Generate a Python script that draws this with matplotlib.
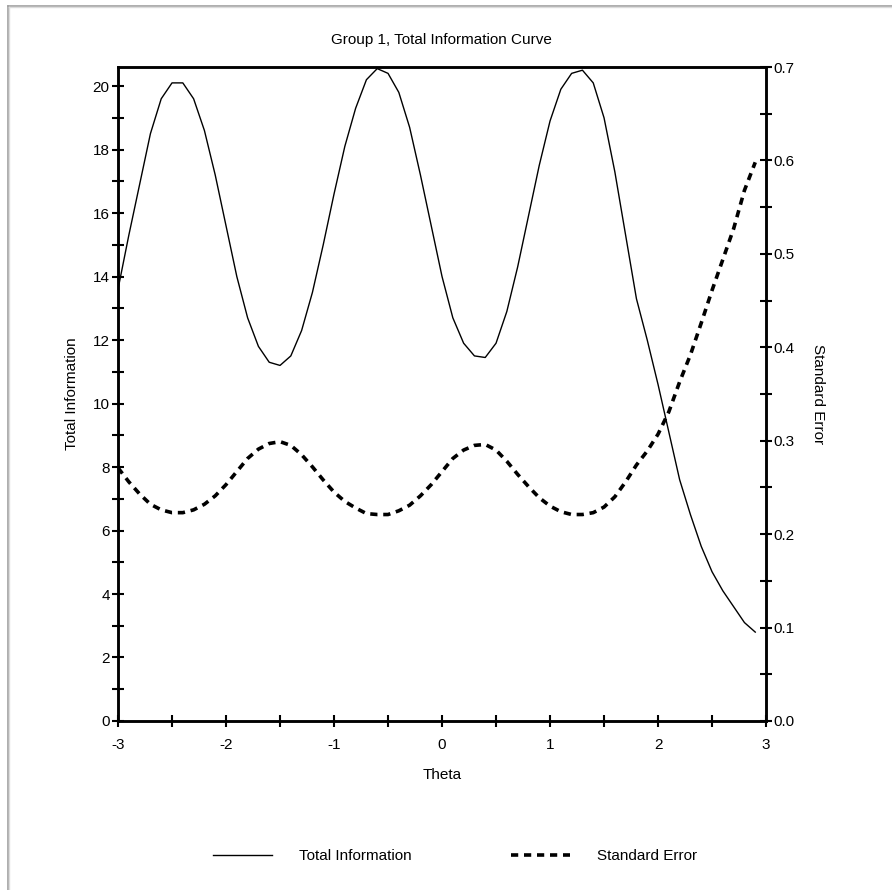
import numpy as np
import matplotlib
matplotlib.use("Agg")
import matplotlib.pyplot as plt
from matplotlib.lines import Line2D

plt.rcParams['font.family'] = ['Liberation Sans', 'DejaVu Sans']

# values
theta = [-3.0, -2.9, -2.8, -2.7, -2.6, -2.5, -2.4, -2.3, -2.2, -2.1,
         -2.0, -1.9, -1.8, -1.7, -1.6, -1.5, -1.4, -1.3, -1.2, -1.1,
         -1.0, -0.9, -0.8, -0.7, -0.6, -0.5, -0.4, -0.3, -0.2, -0.1,
         0.0, 0.1, 0.2, 0.3, 0.4, 0.5, 0.6, 0.7, 0.8, 0.9,
         1.0, 1.1, 1.2, 1.3, 1.4, 1.5, 1.6, 1.7, 1.8, 1.9,
         2.0, 2.1, 2.2, 2.3, 2.4, 2.5, 2.6, 2.7, 2.8, 2.9]
total_info = [13.6, 15.3, 16.9, 18.5, 19.6, 20.1, 20.1, 19.6, 18.6, 17.2,
              15.6, 14.0, 12.7, 11.8, 11.3, 11.2, 11.5, 12.3, 13.5, 15.0,
              16.6, 18.1, 19.3, 20.2, 20.55, 20.4, 19.8, 18.7, 17.2, 15.6,
              14.0, 12.7, 11.9, 11.5, 11.45, 11.9, 12.9, 14.3, 15.9, 17.5,
              18.9, 19.9, 20.4, 20.5, 20.1, 19.0, 17.3, 15.3, 13.3, 12.0,
              10.6, 9.1, 7.6, 6.5, 5.5, 4.7, 4.1, 3.6, 3.1, 2.8]
std_err = [0.271, 0.256, 0.243, 0.232, 0.226, 0.223, 0.223, 0.226, 0.232, 0.241,
           0.253, 0.267, 0.281, 0.291, 0.297, 0.299, 0.295, 0.285, 0.272, 0.258,
           0.245, 0.235, 0.228, 0.222, 0.221, 0.221, 0.225, 0.231, 0.241, 0.253,
           0.267, 0.281, 0.290, 0.295, 0.296, 0.290, 0.278, 0.264, 0.251, 0.239,
           0.230, 0.224, 0.221, 0.221, 0.223, 0.229, 0.240, 0.256, 0.274, 0.289,
           0.307, 0.331, 0.363, 0.392, 0.426, 0.461, 0.494, 0.527, 0.568, 0.598]

fs = 11

fig = plt.figure(figsize=(8.92, 8.90), dpi=100)
ax = fig.add_axes([0.1323, 0.1899, 0.7265, 0.7348])
ax2 = ax.twinx()

l1, = ax.plot(theta, total_info, color='black', lw=1.0)
l2, = ax2.plot(theta, std_err, color='black', lw=2.6, linestyle=(0, (2.0, 1.6)))

ax.set_xlim(-3, 3)
ax.set_ylim(0, 20.6)
ax2.set_ylim(0, 0.7)

ax.set_xticks(np.arange(-3, 3.01, 1))
ax.set_xticks(np.arange(-2.5, 3, 1), minor=True)
ax.set_xticklabels(['-3', '-2', '-1', '0', '1', '2', '3'])
ax.set_yticks(np.arange(0, 21, 2))
ax.set_yticks(np.arange(1, 21, 2), minor=True)
ax2.set_yticks(np.arange(0, 0.71, 0.1))
ax2.set_yticks(np.arange(0.05, 0.7, 0.1), minor=True)
ax2.set_yticklabels(['0.0', '0.1', '0.2', '0.3', '0.4', '0.5', '0.6', '0.7'])

for a in (ax, ax2):
    a.tick_params(which='both', direction='inout', length=8, width=1.5,
                  labelsize=fs, pad=2)
    for s in a.spines.values():
        s.set_linewidth(1.8)
ax.tick_params(axis='x', pad=8)
ax2.tick_params(axis='y', pad=1)

ax.set_xlabel('Theta', fontsize=fs, labelpad=12)
ax.set_ylabel('Total Information', fontsize=fs, labelpad=10)
ax2.set_ylabel('Standard Error', fontsize=fs, rotation=270, labelpad=22)
fig.text(0.495, 0.955, 'Group 1, Total Information Curve', ha='center',
         va='center', fontsize=fs)

fig.legend([l1, l2], ['Total Information', 'Standard Error'],
           loc='center', bbox_to_anchor=(0.51, 0.038), ncol=2, frameon=False,
           fontsize=fs, handlelength=3.87, handletextpad=1.75, columnspacing=6.5)

# grey window border along the top and left edges
fig.add_artist(Line2D([7.5 / 892, 7.5 / 892], [0, 1 - 5.5 / 890], color='#a0a0a0', lw=1.2,
                      transform=fig.transFigure))
fig.add_artist(Line2D([7.5 / 892, 1], [1 - 5.5 / 890, 1 - 5.5 / 890], color='#a0a0a0', lw=1.2,
                      transform=fig.transFigure))
fig.add_artist(Line2D([9 / 892, 9 / 892], [0, 1 - 7 / 890], color='#dcdcdc', lw=1.0,
                      transform=fig.transFigure))
fig.add_artist(Line2D([9 / 892, 1], [1 - 7 / 890, 1 - 7 / 890], color='#dcdcdc', lw=1.0,
                      transform=fig.transFigure))

fig.savefig('out.png', dpi=100)
